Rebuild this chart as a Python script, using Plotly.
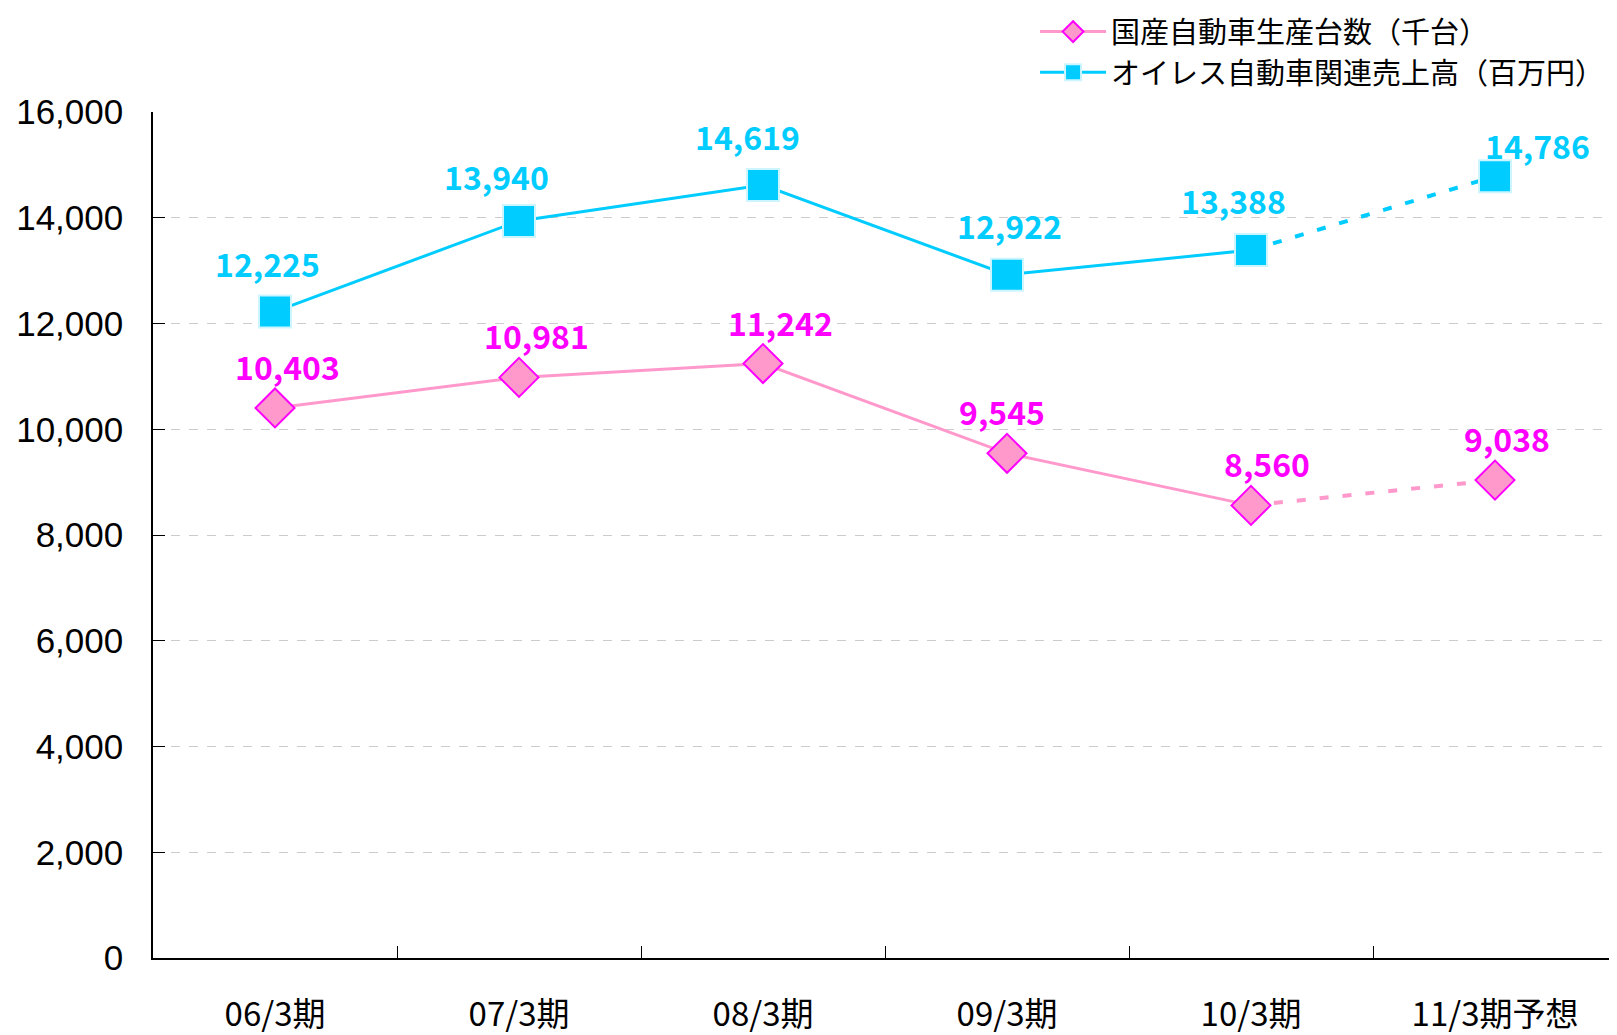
import plotly.graph_objects as go

periods = ["06/3期", "07/3期", "08/3期", "09/3期", "10/3期", "11/3期予想"]
production = [10403, 10981, 11242, 9545, 8560, 9038]
sales = [12225, 13940, 14619, 12922, 13388, 14786]

prod_name = "国産自動車生産台数（千台）"
sales_name = "オイレス自動車関連売上高（百万円）"

pink = "#FF99CC"
magenta = "#FF00FF"
cyan = "#00CCFF"

# label nudges (px) to mimic the original placement
prod_dx = [12, 17, 17, -5, 16, 12]
prod_dy = [42, 42, 42, 42, 42, 42]
sales_dx = [-8, -23, -16, 2, -18, 42]
sales_dy = [49, 45, 49, 50, 50, 31]

diamond = dict(symbol="diamond", size=30, color=pink, line=dict(color=magenta, width=2))
square = dict(symbol="square", size=32, color=cyan, line=dict(color="#CCF5FF", width=2))

fig = go.Figure()

# solid parts (actual results)
fig.add_trace(go.Scatter(
    x=periods[:5], y=production[:5], name=prod_name, mode="lines+markers",
    line=dict(color=pink, width=3), marker=diamond,
))
fig.add_trace(go.Scatter(
    x=periods[:5], y=sales[:5], name=sales_name, mode="lines+markers",
    line=dict(color=cyan, width=3), marker=square,
))

# forecast segment, dashed
fig.add_trace(go.Scatter(
    x=periods[4:], y=production[4:], mode="lines", showlegend=False,
    line=dict(color=pink, width=4, dash="9px,14px"),
))
fig.add_trace(go.Scatter(
    x=periods[4:], y=sales[4:], mode="lines", showlegend=False,
    line=dict(color=cyan, width=4, dash="9px,14px"),
))
fig.add_trace(go.Scatter(x=periods[5:], y=production[5:], mode="markers",
                         showlegend=False, marker=diamond))
fig.add_trace(go.Scatter(x=periods[5:], y=sales[5:], mode="markers",
                         showlegend=False, marker=square))

lab_font = "Noto Sans CJK JP"
for i, p in enumerate(periods):
    fig.add_annotation(x=p, y=production[i], text=f"<b>{production[i]:,}</b>", showarrow=False,
                       xshift=prod_dx[i], yshift=prod_dy[i],
                       font=dict(family=lab_font, size=32, color=magenta))
    fig.add_annotation(x=p, y=sales[i], text=f"<b>{sales[i]:,}</b>", showarrow=False,
                       xshift=sales_dx[i], yshift=sales_dy[i],
                       font=dict(family=lab_font, size=32, color=cyan))

# page body adds an 8px margin, so the figure is sized/offset to compensate
fig.update_layout(
    width=1609, height=1027,
    margin=dict(l=145, r=0, t=104, b=77, autoexpand=False),
    plot_bgcolor="white", paper_bgcolor="white",
    font=dict(family="Noto Sans CJK JP", color="black"),
    legend=dict(x=0.6025, y=1.125, xanchor="left", yanchor="top",
                font=dict(size=29), tracegroupgap=0, itemwidth=66,
                bgcolor="rgba(0,0,0,0)"),
)
fig.update_xaxes(
    type="category", range=[-0.5, 5.5], tickson="boundaries", ticks="inside", ticklen=12,
    tickcolor="black", showline=True, linecolor="black", linewidth=1.5,
    showgrid=False, ticklabelstandoff=27,
    tickfont=dict(family="Noto Sans CJK JP", size=33),
)
fig.update_yaxes(
    range=[0, 16000], dtick=2000, tickformat=",", ticks="inside", ticklen=12,
    tickcolor="black", showline=True, linecolor="black", linewidth=1.5,
    showgrid=True, gridcolor="#CCCCCC", griddash="dash", gridwidth=1,
    zeroline=False, ticklabelstandoff=21,
    tickfont=dict(family="Liberation Sans", size=35),
)

fig.write_html("out.html")
